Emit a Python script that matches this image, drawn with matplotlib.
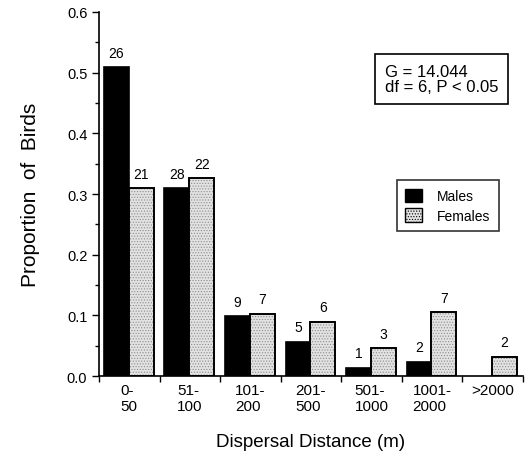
import numpy as np
import matplotlib
matplotlib.use("Agg")
import matplotlib.pyplot as plt
from matplotlib.patches import Patch

plt.rcParams['font.family'] = ['Liberation Sans', 'DejaVu Sans']
plt.rcParams['hatch.linewidth'] = 0.5

# data
categories = ["0-\n50", "51-\n100", "101-\n200", "201-\n500", "501-\n1000", "1001-\n2000", ">2000"]
males = [0.509, 0.310, 0.099, 0.057, 0.014, 0.024, 0.0]
females = [0.310, 0.326, 0.103, 0.090, 0.046, 0.105, 0.032]
male_n = [26, 28, 9, 5, 1, 2, None]
female_n = [21, 22, 7, 6, 3, 7, 2]

fig = plt.figure(figsize=(5.27, 4.60), dpi=100)
ax = fig.add_axes([0.188, 0.180, 0.804, 0.792])

x = np.arange(len(categories))
w = 0.41
xm = x + 0.08
xf = xm + w

for i in range(len(categories)):
    if males[i] > 0:
        ax.bar(xm[i], males[i], w, align='edge', color='black', edgecolor='black', linewidth=1.2)
    # stippled fill, then black outline on top
    ax.bar(xf[i], females[i], w, align='edge', color='#e2e2e2', edgecolor='#8c8c8c',
           hatch='......', linewidth=0)
    ax.bar(xf[i], females[i], w, align='edge', fill=False, edgecolor='black', linewidth=1.4)
    if male_n[i] is not None:
        ax.text(xm[i] + w / 2, males[i] + 0.012, str(male_n[i]), ha='center', va='bottom', fontsize=10)
    ax.text(xf[i] + w / 2, females[i] + 0.012, str(female_n[i]), ha='center', va='bottom', fontsize=10)

ax.set_xlim(0, 7)
ax.set_ylim(0, 0.6)
ax.set_xticks(np.arange(0, 8))
ax.set_xticklabels([])
ax.set_xticks(x + 0.5, minor=True)
ax.set_xticklabels(categories, minor=True, fontsize=11, multialignment='left')
ax.tick_params(axis='x', which='minor', length=0, pad=5)
ax.tick_params(axis='x', which='major', direction='out', length=4, width=1)

ax.set_yticks(np.arange(0, 0.61, 0.1))
ax.set_yticklabels(["%.1f" % v for v in np.arange(0, 0.61, 0.1)], fontsize=10.5)
ax.set_yticks(np.arange(0.05, 0.6, 0.1), minor=True)
ax.tick_params(axis='y', which='major', direction='out', length=5, width=1)
ax.tick_params(axis='y', which='minor', direction='out', length=3, width=1)

for s in ['top', 'right']:
    ax.spines[s].set_visible(False)
for s in ['left', 'bottom']:
    ax.spines[s].set_linewidth(1.2)

ax.set_ylabel("Proportion  of  Birds", fontsize=15, labelpad=19)
ax.set_xlabel("Dispersal Distance (m)", fontsize=13.5, labelpad=14)

ax.text(0.674, 0.815, "G = 14.044\ndf = 6, P < 0.05", transform=ax.transAxes,
        fontsize=12, ha='left', va='center', linespacing=1.0,
        bbox=dict(boxstyle='square,pad=0.6', facecolor='white', edgecolor='black', linewidth=1.2))

handles = [Patch(facecolor='black', edgecolor='black'),
           Patch(facecolor='#e2e2e2', edgecolor='black', hatch='......')]
leg = ax.legend(handles, ["Males", "Females"], loc='upper right', bbox_to_anchor=(0.943, 0.538),
                fontsize=10, frameon=True, fancybox=False, edgecolor='black',
                handlelength=1.2, handleheight=1.1, borderpad=0.6, labelspacing=0.4,
                handletextpad=1.1, borderaxespad=0)
leg.get_frame().set_linewidth(1.2)

fig.savefig("out.png", dpi=100)
